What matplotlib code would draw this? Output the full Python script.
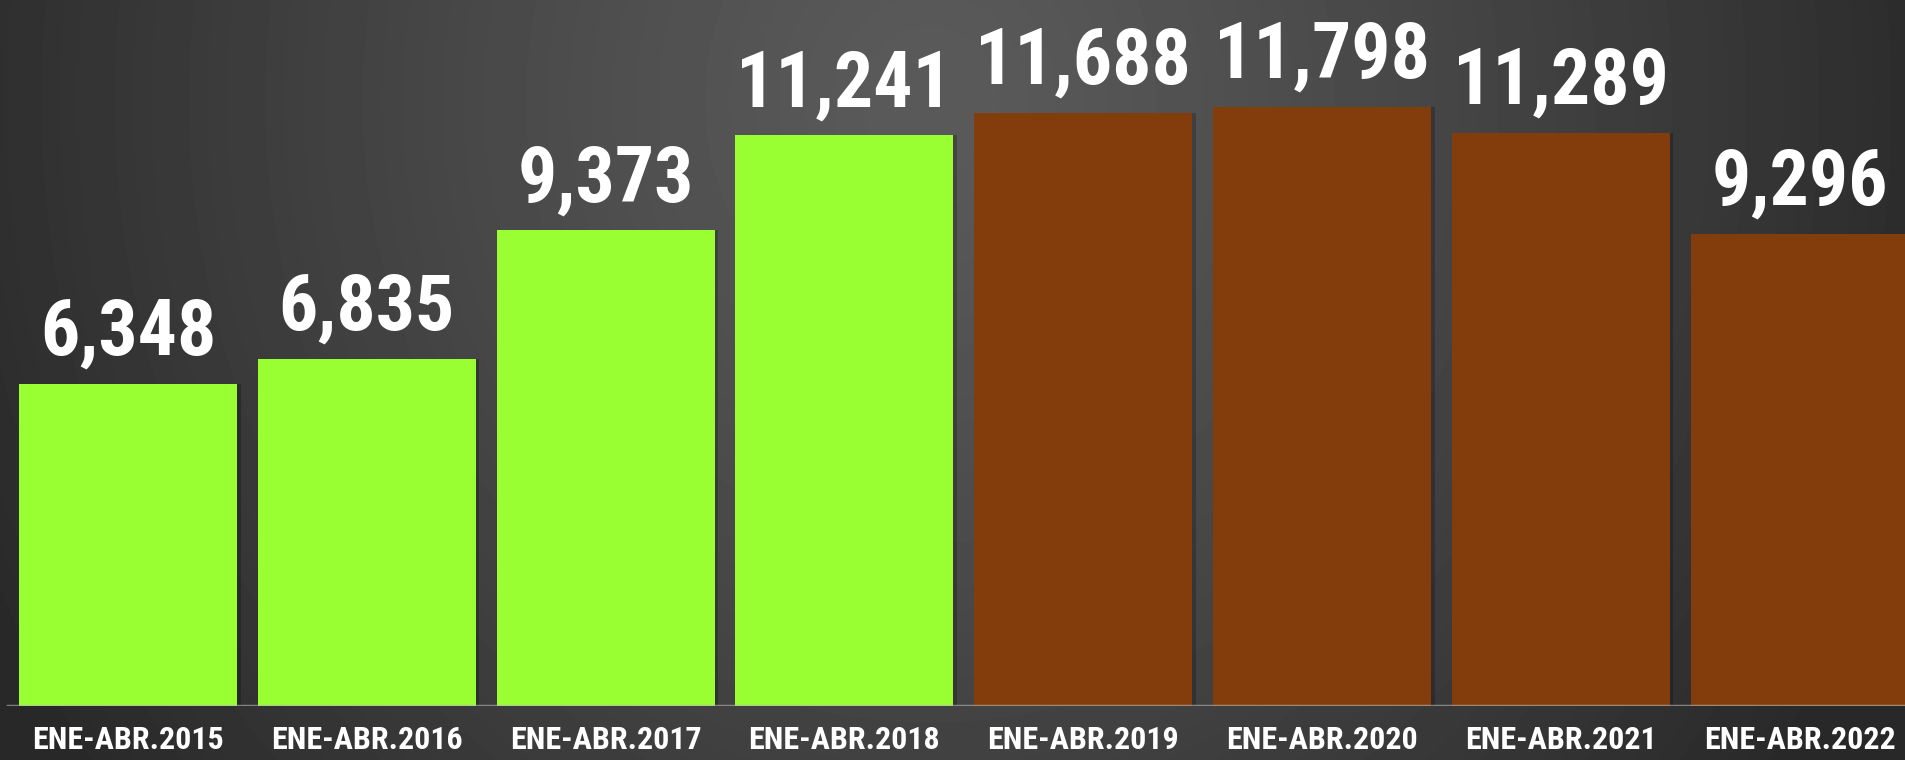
import numpy as np
import matplotlib
matplotlib.use("Agg")
import matplotlib.pyplot as plt

# datos
periodos = ["ENE-ABR.2015", "ENE-ABR.2016", "ENE-ABR.2017", "ENE-ABR.2018",
            "ENE-ABR.2019", "ENE-ABR.2020", "ENE-ABR.2021", "ENE-ABR.2022"]
valores = [6348, 6835, 9373, 11241, 11688, 11798, 11289, 9296]
colores = ["#99ff33"] * 4 + ["#833c0c"] * 4

plt.rcParams["font.family"] = ["Roboto Condensed", "DejaVu Sans"]
plt.rcParams["font.stretch"] = "condensed"

fig = plt.figure(figsize=(19.05, 7.6), dpi=100)

# fondo con degradado radial
bg = fig.add_axes([0, 0, 1, 1], zorder=0)
yy, xx = np.mgrid[0:760, 0:1905]
d = np.sqrt(((xx - 930) / 1050.0) ** 2 + ((yy - 100) / 1150.0) ** 2)
d = np.clip(d, 0, 1)
gris = 0.355 - (0.355 - 0.16) * d ** 1.2
bg.imshow(gris, cmap="gray", vmin=0, vmax=1, aspect="auto", interpolation="bilinear")
bg.axis("off")

ax = fig.add_axes([0, 1 - 706 / 760, 1, 706 / 760], zorder=1)
ax.patch.set_alpha(0)
x = np.arange(len(valores))
ancho = 0.913

# sombra
ax.bar(x + 0.015, valores, width=ancho, color="black", alpha=0.22, zorder=1)
ax.bar(x, valores, width=ancho, color=colores, zorder=2)

for xi, v in zip(x, valores):
    ax.annotate(f"{v:,}", (xi, v), xytext=(0, 21), textcoords="offset points",
                ha="center", va="baseline", color="white",
                fontsize=56, fontweight="bold", zorder=4)

ax.set_xlim(-128 / 238.8, (1905 - 128) / 238.8)
ax.set_ylim(0, 13909)
ax.axhline(0, xmin=8 / 1905, xmax=1, color="#b8b8b8", alpha=0.6, lw=2.5, zorder=3)

ax.set_xticks(x)
ax.set_xticklabels(periodos, color="white", fontsize=23, fontweight="bold")
ax.tick_params(axis="x", length=0, pad=14)
ax.set_yticks([])
for s in ax.spines.values():
    s.set_visible(False)

fig.savefig("out.png", dpi=100)
